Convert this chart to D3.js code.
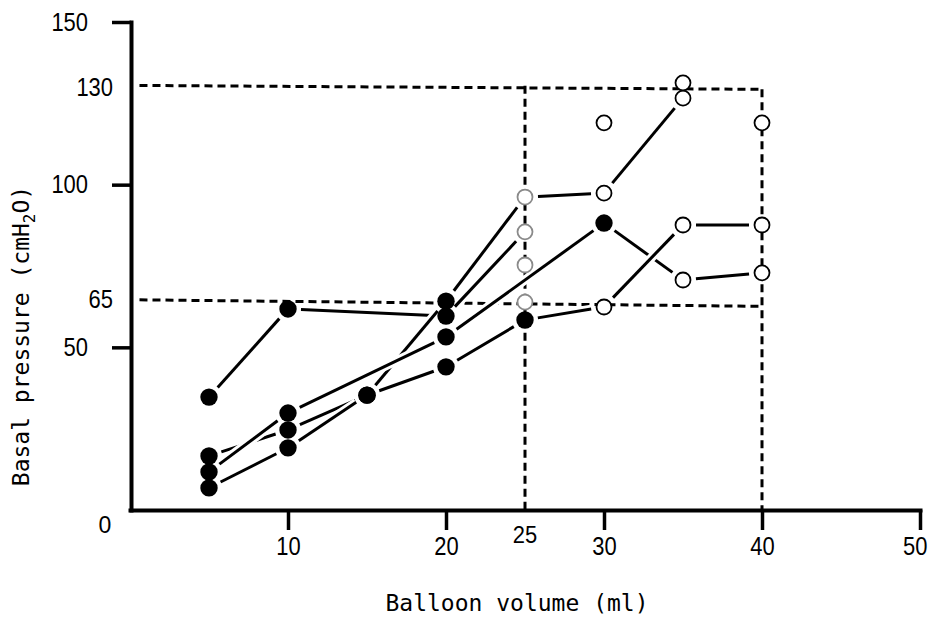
<!DOCTYPE html>
<html><head><meta charset="utf-8">
<script src="https://cdn.jsdelivr.net/npm/d3@7"></script>
<style>
body{margin:0;background:#fff;}
svg{display:block;}
.num{font-family:"Liberation Sans","Arimo",Arial,sans-serif;fill:#000;}
.title{font-family:"DejaVu Sans Mono","Liberation Mono",monospace;font-size:23px;fill:#000;}
</style></head><body>
<svg id="chart" width="932" height="618"></svg>
<script>
// ---- data ----
const volumes = [5, 10, 15, 20, 25, 30, 35, 40];           // ml
const subject1 = [34.7, 61.8, null, 59.6, 85.5, null, null, null];
const subject2 = [16.6, 24.6, 35.3, 64.2, 96.2, 97.4, 126.6, null];
const subject3 = [11.7, 29.8, null, 53.2, null, 88.2, 70.7, 72.9];
const subject4 = [6.8, 19.1, 35.3, 44.0, 58.4, 62.4, 87.6, 87.6];
const lastFilledVolume = [20, 20, 30, 25];                  // filled dots up to this volume, open after
const unlinkedVolumes = [25, 25, 30, 35, 40];
const unlinkedPressures = [75.3, 63.9, 119.0, 131.3, 119.0];
const xTicks = [10, 20, 30, 40, 50];
const yTicks = [50, 100, 150];
const guideVolumes = [0.6, 40];
const guide130 = [130.5, 129.3];
const guide65 = [64.6, 62.6];
const guideVerticalVolumes = [25, 40];
const guideVerticalTop = [130.4, 129.3];
const levelLabels = [130, 65];
const volumeLabel = 25;

// ---- scales ----
const W = 932;
const svg = d3.select("#chart");
const x = d3.scaleLinear().domain([0, 50]).range([130, 920]);
const y = d3.scaleLinear().domain([0, 150]).range([510, 22]);

// condensed look for numerals
const digitW = 12.2;
function condense(sel) {
  sel.attr("textLength", function () { return this.textContent.length * digitW; })
     .attr("lengthAdjust", "spacingAndGlyphs");
}

// ---- dashed guide lines ----
const dash = "8,5";
const guides = svg.append("g").attr("stroke", "#000").attr("stroke-width", 3)
  .attr("stroke-dasharray", dash).attr("fill", "none");
[guide130, guide65].forEach(g => {
  guides.append("line")
    .attr("x1", x(guideVolumes[0])).attr("y1", y(g[0]))
    .attr("x2", x(guideVolumes[1])).attr("y2", y(g[1]));
});
guideVerticalVolumes.forEach((v, i) => {
  guides.append("line")
    .attr("x1", x(v)).attr("y1", y(guideVerticalTop[i]))
    .attr("x2", x(v)).attr("y2", y(0));
});

// ---- axes ----
const xAxis = svg.append("g").attr("transform", `translate(0,${y(0)})`)
  .call(d3.axisBottom(x).tickValues(xTicks).tickSize(20).tickSizeOuter(0).tickPadding(7));
const yAxis = svg.append("g").attr("transform", `translate(${x(0) + 1},0)`)
  .call(d3.axisLeft(y).tickValues(yTicks).tickSize(19).tickSizeOuter(0).tickPadding(24));
[xAxis, yAxis].forEach(a => {
  a.attr("font-family", null).attr("font-size", null);
  a.select(".domain").attr("stroke-width", 4).attr("stroke-linecap", "square");
  a.selectAll(".tick line").attr("stroke-width", 3.5);
  a.selectAll(".tick text").attr("class", "num").style("font-size", "26px").attr("fill", "#000")
    .call(condense);
});
// keep the last x label inside the picture
xAxis.selectAll(".tick text").each(function (d) {
  const half = this.textContent.length * digitW / 2;
  const over = x(d) + half - (W - 5);
  if (over > 0) d3.select(this).attr("dx", -over);
});

// extra labels
svg.append("text").attr("class", "num").style("font-size", "23px")
  .attr("x", x(0) - 25).attr("y", y(0) + 15).attr("dy", "0.35em")
  .attr("text-anchor", "middle").text("0");
svg.selectAll("text.level").data(levelLabels).enter().append("text")
  .attr("class", "num level").style("font-size", "26px")
  .attr("x", x(0) - 17).attr("y", d => y(d)).attr("dy", "0.36em")
  .attr("text-anchor", "end").text(d => d).call(condense);
svg.append("text").attr("class", "num").style("font-size", "23px")
  .attr("x", x(volumeLabel)).attr("y", y(0) + 17).attr("dy", "0.71em")
  .attr("text-anchor", "middle").text(volumeLabel).call(condense);

// titles
svg.append("text").attr("class", "title").attr("x", 517).attr("y", 611)
  .attr("text-anchor", "middle").text("Balloon volume (ml)");
const yt = svg.append("text").attr("class", "title")
  .attr("transform", "translate(29,336) rotate(-90)").attr("text-anchor", "middle");
yt.append("tspan").text("Basal pressure (cmH");
yt.append("tspan").attr("dy", 6).style("font-size", "16px").text("2");
yt.append("tspan").attr("dy", -6).text("O)");

// ---- series ----
const series = [subject1, subject2, subject3, subject4];
const gap = 13;
const lineG = svg.append("g");
series.forEach((vals, si) => {
  const pts = volumes.map((v, i) => [v, vals[i]]).filter(d => d[1] != null)
    .map(d => [x(d[0]), y(d[1])]);
  const segs = d3.pairs(pts).map(([a, b]) => {
    const dx = b[0] - a[0], dy = b[1] - a[1], L = Math.hypot(dx, dy);
    const ux = dx / L, uy = dy / L;
    return [a[0] + ux * gap, a[1] + uy * gap, b[0] - ux * gap, b[1] - uy * gap];
  });
  const g = lineG.append("g");
  g.selectAll("line.halo").data(segs).enter().append("line")
    .attr("x1", d => d[0]).attr("y1", d => d[1]).attr("x2", d => d[2]).attr("y2", d => d[3])
    .attr("stroke", "#fff").attr("stroke-width", 9);
  g.selectAll("line.ink").data(segs).enter().append("line")
    .attr("x1", d => d[0]).attr("y1", d => d[1]).attr("x2", d => d[2]).attr("y2", d => d[3])
    .attr("stroke", "#000").attr("stroke-width", 3);
});

// ---- markers ----
const markers = [];
series.forEach((vals, si) => {
  volumes.forEach((v, i) => {
    if (vals[i] != null) markers.push({v, p: vals[i], filled: v <= lastFilledVolume[si]});
  });
});
unlinkedVolumes.forEach((v, i) => markers.push({v, p: unlinkedPressures[i], filled: false}));

const mG = svg.append("g");
mG.selectAll("circle.open").data(markers.filter(d => !d.filled)).enter().append("circle")
  .attr("cx", d => x(d.v)).attr("cy", d => y(d.p)).attr("r", 7.5)
  .attr("fill", "#fff").attr("stroke", d => d.v === volumeLabel ? "#8a8a8a" : "#000")
  .attr("stroke-width", 1.8);
mG.selectAll("circle.filled").data(markers.filter(d => d.filled)).enter().append("circle")
  .attr("cx", d => x(d.v)).attr("cy", d => y(d.p)).attr("r", 8.7).attr("fill", "#000");
</script>
</body></html>
